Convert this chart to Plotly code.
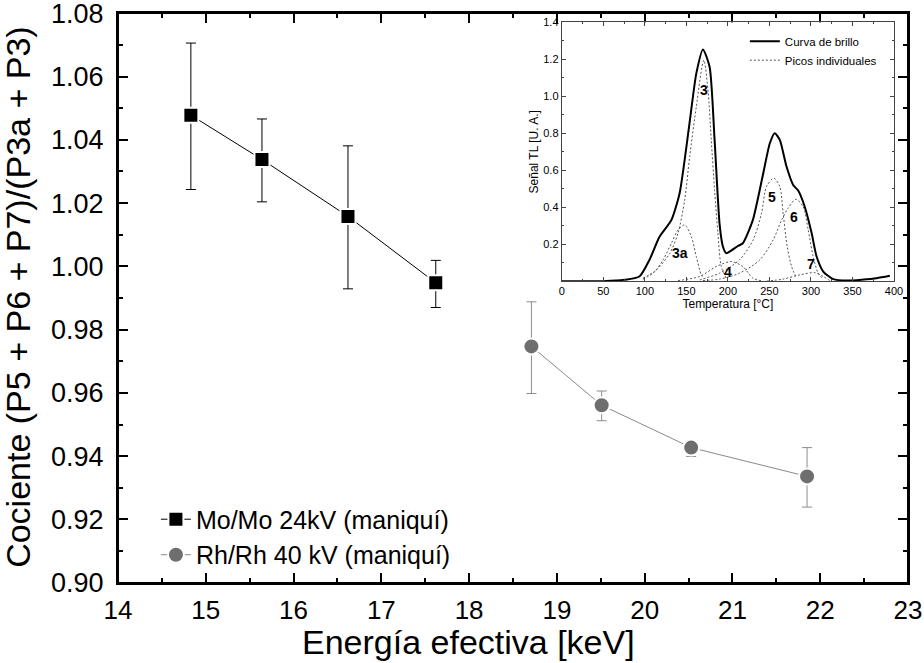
import plotly.graph_objects as go

# main panel: cociente vs energia efectiva
mo_energy = [14.83, 15.64, 16.62, 17.62]
mo_ratio = [1.0478, 1.0338, 1.0158, 0.9948]
mo_upper = [1.0706, 1.0466, 1.0381, 1.0019]
mo_lower = [1.0243, 1.0204, 0.9929, 0.9870]

rh_energy = [18.71, 19.51, 20.53, 21.85]
rh_ratio = [0.9747, 0.9561, 0.9427, 0.9336]
rh_upper = [0.9888, 0.9606, 0.9448, 0.9427]
rh_lower = [0.9598, 0.9512, 0.9399, 0.9239]

y_ticks = [0.90, 0.92, 0.94, 0.96, 0.98, 1.00, 1.02, 1.04, 1.06, 1.08]
x_ticks = [14, 15, 16, 17, 18, 19, 20, 21, 22, 23]

# inset: curva de brillo
glow_t = [0, 50, 75.6, 93.5, 105.6, 117.7, 131.9, 141.9, 153.8, 162, 170, 178, 184,
          190, 194, 198, 204, 212, 218, 230, 242.4, 250.5, 256.5, 262.5, 270.6,
          278.6, 284.6, 292.7, 300.8, 306.8, 314.8, 326.8, 343, 379, 395]
glow_s = [0.0, 0.0, 0.007, 0.025, 0.115, 0.24, 0.33, 0.476, 0.854, 1.124, 1.254, 1.16, 0.764,
          0.31, 0.187, 0.151, 0.165, 0.19, 0.205, 0.33, 0.58, 0.746, 0.80, 0.764, 0.62,
          0.52, 0.49, 0.40, 0.26, 0.133, 0.052, 0.011, 0.003, 0.016, 0.029]

# picos individuales
p3a_t = [97.7, 110, 122, 132, 140, 148, 156, 162, 168, 172]
p3a_s = [0.011, 0.043, 0.115, 0.205, 0.277, 0.304, 0.241, 0.133, 0.034, 0.011]
p3_t = [97.7, 114, 130, 140, 148, 154, 162, 171, 176, 180, 184, 188, 192, 198]
p3_s = [0.016, 0.061, 0.15, 0.26, 0.44, 0.674, 0.944, 1.196, 1.034, 0.764, 0.49, 0.26, 0.08, 0.016]
p4_t = [140, 166, 186, 204, 218, 230, 240]
p4_s = [0.003, 0.025, 0.079, 0.106, 0.079, 0.016, 0.002]
p5_t = [166, 190, 214, 230.4, 240.5, 246.5, 255.3, 262.5, 266.5, 271.4, 276.7, 282.7]
p5_s = [0.007, 0.043, 0.115, 0.223, 0.368, 0.511, 0.557, 0.511, 0.368, 0.187, 0.079, 0.016]
p6_t = [170, 190, 214, 238.4, 254.5, 264.6, 272.6, 281.8, 290.6, 296.7, 302.7, 308.7, 314.8]
p6_s = [0.003, 0.011, 0.043, 0.115, 0.223, 0.33, 0.395, 0.443, 0.403, 0.277, 0.133, 0.043, 0.011]
p7_t = [246.5, 266.5, 286.6, 304.7, 314.8, 322.8]
p7_s = [0.0, 0.011, 0.034, 0.046, 0.025, 0.003]

peak_labels = ["3", "3a", "4", "5", "6", "7"]
label_t = [171, 142.8, 200, 253.7, 279.8, 300]
label_s = [1.034, 0.151, 0.052, 0.454, 0.349, 0.094]

FONT = "Liberation Sans, Arial, sans-serif"
GRAY = "#6e6e6e"

fig = go.Figure()

fig.add_trace(go.Scatter(
    x=mo_energy, y=mo_ratio, name="Mo/Mo 24kV (maniquí)", mode="lines+markers",
    line=dict(color="black", width=1),
    marker=dict(symbol="square", size=15, color="black", line=dict(color="white", width=2)),
    error_y=dict(type="data", symmetric=False,
                 array=[u - v for u, v in zip(mo_upper, mo_ratio)],
                 arrayminus=[v - l for v, l in zip(mo_ratio, mo_lower)],
                 color="black", thickness=1, width=5),
))
fig.add_trace(go.Scatter(
    x=rh_energy, y=rh_ratio, name="Rh/Rh 40 kV (maniquí)", mode="lines+markers",
    line=dict(color="#8a8a8a", width=1),
    marker=dict(symbol="circle", size=16, color=GRAY, line=dict(color="white", width=2)),
    error_y=dict(type="data", symmetric=False,
                 array=[u - v for u, v in zip(rh_upper, rh_ratio)],
                 arrayminus=[v - l for v, l in zip(rh_ratio, rh_lower)],
                 color="#8c8c8c", thickness=1, width=5),
))

# inset traces
fig.add_trace(go.Scatter(
    x=glow_t, y=glow_s, name="Curva de brillo", mode="lines", legend="legend2",
    line=dict(color="black", width=2, shape="spline", smoothing=0.6),
    xaxis="x2", yaxis="y2",
))
peaks = [(p3a_t, p3a_s), (p3_t, p3_s), (p4_t, p4_s), (p5_t, p5_s), (p6_t, p6_s), (p7_t, p7_s)]
for i, (pt, ps) in enumerate(peaks):
    fig.add_trace(go.Scatter(
        x=pt, y=ps, name="Picos individuales", mode="lines", legend="legend2",
        showlegend=(i == 0),
        line=dict(color="#555555", width=1, dash="2px,2px", shape="spline", smoothing=0.8),
        xaxis="x2", yaxis="y2",
    ))

for txt, t, s in zip(peak_labels, label_t, label_s):
    fig.add_annotation(x=t, y=s, xref="x2", yref="y2", text="<b>%s</b>" % txt,
                       showarrow=False, font=dict(size=14, color="black", family=FONT))

# main axis titles placed by hand
fig.add_annotation(x=0.444, y=-0.1035, xref="paper", yref="paper", text="Energía efectiva [keV]",
                   showarrow=False, xanchor="center", yanchor="middle", font=dict(size=34))
fig.add_annotation(x=-0.1266, y=0.502, xref="paper", yref="paper",
                   text="Cociente (P5 + P6 + P7)/(P3a + P3)", textangle=-90,
                   showarrow=False, xanchor="center", yanchor="middle", font=dict(size=34))

# frame round the main plot
fig.add_shape(type="rect", xref="paper", yref="paper", x0=0, x1=1, y0=0, y1=1,
              line=dict(color="black", width=2), layer="above")

main_axis = dict(showline=True, linewidth=2, linecolor="black", mirror="ticks",
                 ticks="inside", ticklen=10, tickwidth=2, tickcolor="black",
                 showgrid=False, zeroline=False, automargin=False, ticklabeloverflow="allow")

fig.update_layout(
    width=924, height=663,
    margin=dict(l=118, r=16, t=13, b=80),
    paper_bgcolor="white", plot_bgcolor="white",
    font=dict(family=FONT, color="black"),
    xaxis=dict(main_axis, range=[14, 23], tickvals=x_ticks,
               minor=dict(dtick=0.5, ticklen=5, tickwidth=2, tickcolor="black", ticks="inside"),
               tickfont=dict(size=26), ticklabelstandoff=3),
    yaxis=dict(main_axis, range=[0.8999, 1.0801], tickvals=y_ticks, tickformat=".2f",
               minor=dict(dtick=0.01, tick0=0.9, ticklen=5, tickwidth=2, tickcolor="black",
                          ticks="inside"),
               tickfont=dict(size=27), ticklabelstandoff=7),
    xaxis2=dict(domain=[0.5617, 0.9823], anchor="y2", range=[0, 400], dtick=50,
                showline=True, linewidth=1, linecolor="#444444", mirror="ticks",
                ticks="inside", ticklen=4, tickwidth=1, tickcolor="#444444",
                minor=dict(dtick=25, ticklen=2, ticks="inside", tickcolor="#444444"),
                showgrid=False, zeroline=False, tickfont=dict(size=11), automargin=False,
                title=dict(text="Temperatura [°C]", font=dict(size=12), standoff=2)),
    yaxis2=dict(domain=[0.5296, 0.9835], anchor="x2", range=[0, 1.4],
                tickvals=[0.2, 0.4, 0.6, 0.8, 1.0, 1.2, 1.4], tickformat=".1f",
                showline=True, linewidth=1, linecolor="#444444", mirror="ticks",
                ticks="inside", ticklen=4, tickwidth=1, tickcolor="#444444",
                minor=dict(dtick=0.1, tick0=0, ticklen=2, ticks="inside", tickcolor="#444444"),
                showgrid=False, zeroline=False, tickfont=dict(size=11), automargin=False,
                title=dict(text="Señal TL [U. A.]", font=dict(size=12), standoff=2)),
    legend=dict(x=0.048, y=0.0097, xanchor="left", yanchor="bottom",
                font=dict(size=25), bgcolor="rgba(0,0,0,0)", tracegroupgap=0,
                itemwidth=30),
    legend2=dict(x=0.7935, y=0.976, xanchor="left", yanchor="top",
                 font=dict(size=11.5), bgcolor="rgba(0,0,0,0)", itemwidth=30),
    showlegend=True,
)

# drop the browser's default 8px body margin so the 924x663 figure fills the window
fig.write_html("out.html", config={"displayModeBar": False},
               post_script="document.body.style.margin = '0';")
